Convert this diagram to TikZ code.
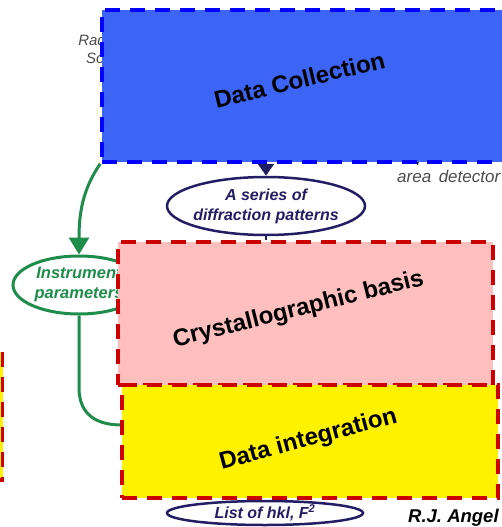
\documentclass[tikz,border=0pt]{standalone}
\usepackage{fontspec}
\setmainfont{Liberation Sans}
\usetikzlibrary{arrows.meta}
\usetikzlibrary{shapes.geometric}

\definecolor{boxblue}{RGB}{60,100,245}
\definecolor{boxedge}{RGB}{0,0,255}
\definecolor{boxpink}{RGB}{255,191,191}
\definecolor{dashred}{RGB}{204,0,0}
\definecolor{navy}{RGB}{35,30,100}
\definecolor{instgreen}{RGB}{30,140,75}
\definecolor{notegray}{RGB}{75,75,75}

\pgfdeclarelayer{back}
\pgfsetlayers{back,main}

\tikzset{
  stage/.style={rectangle,draw,line width=3.5pt,dash pattern=on 15pt off 10pt,inner sep=0pt},
  stagetext/.style={anchor=base,inner sep=0pt,font=\fontsize{24}{28}\selectfont\bfseries},
  outcome/.style={ellipse,draw=navy,line width=2.5pt,inner sep=0pt},
  outtext/.style={text=navy,align=center,inner sep=0pt,font=\fontsize{16}{20}\selectfont\bfseries\itshape},
  note/.style={text=notegray,align=center,inner sep=0pt,font=\fontsize{15}{18}\selectfont\itshape},
}

\begin{document}
\begin{tikzpicture}[x=1pt,y=-1pt]
        \useasboundingbox (0,0) rectangle (502,527);

        % things under the boxes
        \begin{pgfonlayer}{back}
        \node[note] (source) at (110,49) {Radiation\\Source};
        \node[ellipse,draw=instgreen,line width=3pt,inner sep=0pt,minimum width=132pt,minimum height=58pt] (instr) at (79,285) {};
        \node[text=instgreen,align=center,inner sep=0pt,font=\fontsize{16.5}{20}\selectfont\bfseries\itshape] (instrtxt) at (instr) {Instrument\\parameters};
        \end{pgfonlayer}

        \node[stage,draw=boxedge,fill=boxblue,minimum width=408pt,minimum height=152pt] (collect) at (306,86) {};
        \node[stage,draw=dashred,fill=boxpink,minimum width=375pt,minimum height=143pt] (basis) at (305.5,313.5) {};
        \node[stage,draw=dashred,fill=yellow,minimum width=376pt,minimum height=113pt] (integ) at (310,441.5) {};
        \node[stage,draw=dashred,fill=yellow,minimum width=62pt,minimum height=128pt] (prev) at (-28.5,416) {};

        \node[stagetext,rotate=13.5] (collecttxt) at (301.5,88) {Data Collection};
        \node[stagetext,rotate=14] (basistxt) at (300,316) {Crystallographic basis};
        \node[stagetext,rotate=15] (integtxt) at (310,446) {Data integration};

        \node[outcome,minimum width=198pt,minimum height=58pt] (series) at (266,206) {};
        \node[outtext] (seriestxt) at (series) {A series of\\diffraction patterns};
        \node[outcome,minimum width=196pt,minimum height=24pt] (hkl) at (265,513) {};
        \node[outtext] (hkltxt) at (hkl) {List of hkl, F\textsuperscript{2}};

        \node[note,anchor=base west,font=\fontsize{17}{20}\selectfont\itshape] (detector) at (397,182) {area\, detector};
        \node[anchor=base west,inner sep=0pt,font=\fontsize{18.5}{22}\selectfont\bfseries\itshape] (author) at (408,522) {R.J. Angel};

        \coordinate (detsrc) at (412,150);
        \coordinate (dettip) at (418,165);
        \coordinate (gend) at (122,425);

        \begin{pgfonlayer}{back}
        \draw[instgreen,line width=3pt,-{Triangle[width=20pt,length=17pt]}] (collect.south west) .. controls (82,190) and (79,215) .. (instr.north);
        \draw[instgreen,line width=3pt] (instr.south) -- ++(0,72) .. controls +(0,30) and (100,425) .. (gend);
        \draw[navy,line width=2.5pt,-{Triangle[width=16pt,length=12pt]}] (series.north |- collect.south) -- (series.north);
        \draw[navy,line width=2.5pt] (series.south) -- (series.south |- basis.north);
        \draw[black,line width=1.5pt,-{Triangle[width=8pt,length=6pt]}] (detsrc) -- (dettip);
        \end{pgfonlayer}

    \end{tikzpicture}
\end{document}
